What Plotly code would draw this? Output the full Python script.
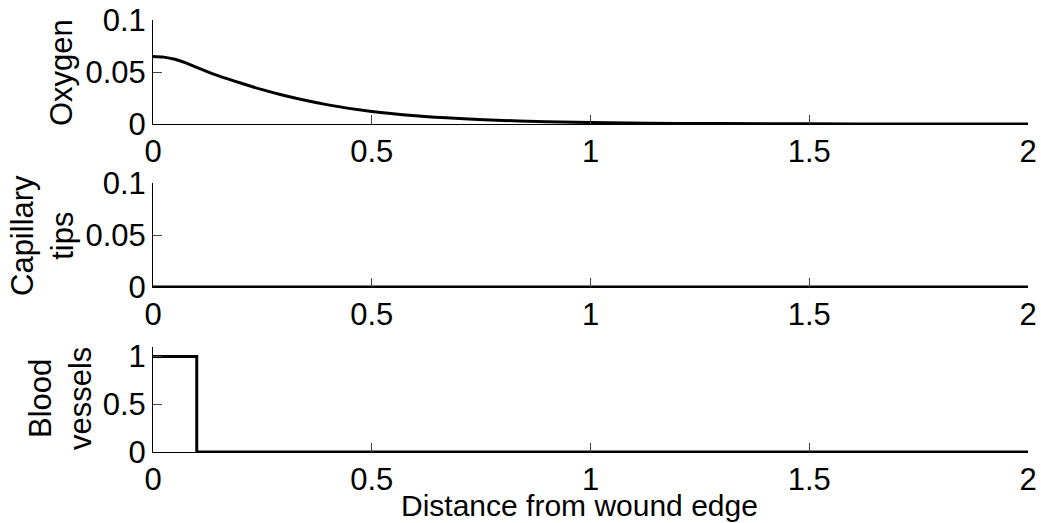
import plotly.graph_objects as go

# Data
distance_oxygen = [0.0, 0.025, 0.05, 0.075, 0.1, 0.125, 0.15, 0.2, 0.25, 0.3, 0.4, 0.5, 0.6, 0.7, 0.8, 0.9, 1.0, 1.2, 1.4, 1.6, 1.8, 2.0]
oxygen = [0.065, 0.0643, 0.0622, 0.0588, 0.0545, 0.0502, 0.0463, 0.0394, 0.0330, 0.0274, 0.0184, 0.0120, 0.0079, 0.0052, 0.0034, 0.0022, 0.0014, 0.0006, 0.00025, 0.0001, 0.00004, 0.00002]

distance_tips = [0.0, 2.0]
capillary_tips = [0.0, 0.0]

distance_vessels = [0.0, 0.1, 0.1, 2.0]
blood_vessels = [1.0, 1.0, 0.0, 0.0]

x_ticks = [0, 0.5, 1, 1.5, 2]
x_ticktext = ["0", "0.5", "1", "1.5", "2"]
y1_ticks = [0, 0.05, 0.1]
y1_ticktext = ["0", "0.05", "0.1"]
y2_ticks = [0, 0.05, 0.1]
y2_ticktext = ["0", "0.05", "0.1"]
y3_ticks = [0, 0.5, 1]
y3_ticktext = ["0", "0.5", "1"]

W, H = 1041, 523
FONT = "Liberation Sans, Arial, sans-serif"
FS = 31

def px_dom_y(top, bottom):
    return [1 - bottom / H, 1 - top / H]

xdom = [153 / W, 1028 / W]

fig = go.Figure()
line = dict(color="black", width=3)
fig.add_trace(go.Scatter(x=distance_oxygen, y=oxygen, mode="lines",
                         line=dict(color="black", width=3, shape="spline", smoothing=1.0),
                         xaxis="x", yaxis="y", showlegend=False))
fig.add_trace(go.Scatter(x=distance_tips, y=capillary_tips, mode="lines", line=line, xaxis="x2", yaxis="y2", showlegend=False))
fig.add_trace(go.Scatter(x=distance_vessels, y=blood_vessels, mode="lines", line=line, xaxis="x3", yaxis="y3", showlegend=False))

common_x = dict(range=[0, 2], tickvals=x_ticks, ticktext=x_ticktext, ticks="inside", ticklen=9,
                tickcolor="#444", tickwidth=1, showline=True, linecolor="black", linewidth=1,
                showgrid=False, zeroline=False, domain=xdom, automargin=False,
                tickfont=dict(family=FONT, size=FS, color="black"))
common_y = dict(ticks="inside", ticklen=9, tickcolor="#444", tickwidth=1, showline=True,
                linecolor="black", linewidth=1, showgrid=False, zeroline=False, automargin=False,
                tickfont=dict(family=FONT, size=FS, color="black"))

fig.update_layout(
    template="none",
    width=W, height=H,
    margin=dict(l=0, r=0, t=0, b=0, pad=0),
    paper_bgcolor="white", plot_bgcolor="white",
    xaxis=dict(**common_x, anchor="y"),
    xaxis2=dict(**common_x, anchor="y2"),
    xaxis3=dict(**common_x, anchor="y3"),
    yaxis=dict(**common_y, range=[0, 0.1], tickvals=y1_ticks, ticktext=y1_ticktext, domain=px_dom_y(20, 124), anchor="x"),
    yaxis2=dict(**common_y, range=[0, 0.1], tickvals=y2_ticks, ticktext=y2_ticktext, domain=px_dom_y(183, 287), anchor="x2"),
    yaxis3=dict(**common_y, range=[0, 1.1], tickvals=y3_ticks, ticktext=y3_ticktext, domain=px_dom_y(347, 452), anchor="x3"),
    font=dict(family=FONT, size=FS, color="black"),
)

def ytitle(text, xpx, ypx):
    fig.add_annotation(text=text, textangle=-90, xref="paper", yref="paper",
                       x=xpx / W, y=1 - ypx / H, xanchor="center", yanchor="middle",
                       showarrow=False, font=dict(family=FONT, size=FS, color="black"))

ytitle("Oxygen", 62, 73)
ytitle("Capillary<br>tips", 42, 236)
ytitle("Blood<br>vessels", 60, 399)

fig.add_annotation(text="Distance from wound edge", xref="paper", yref="paper",
                   x=579 / W, y=1 - 505 / H, xanchor="center", yanchor="middle",
                   showarrow=False, font=dict(family=FONT, size=30, color="black"))

fig.write_html("out.html")
